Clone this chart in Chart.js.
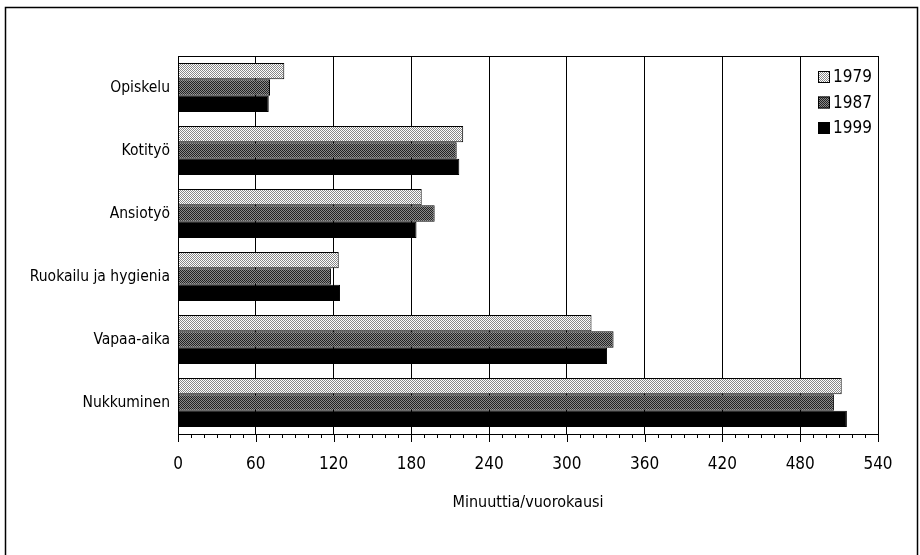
<!DOCTYPE html>
<html>
<head>
<meta charset="utf-8">
<script src="https://cdn.jsdelivr.net/npm/chart.js@4/dist/chart.umd.min.js"></script>
<style>
  html, body { margin: 0; padding: 0; background: #fff; }
</style>
</head>
<body>
<canvas id="chart" width="920" height="555"></canvas>
<script>
const categories = ['Opiskelu', 'Kotityö', 'Ansiotyö', 'Ruokailu ja hygienia', 'Vapaa-aika', 'Nukkuminen'];
const years = ['1979', '1987', '1999'];
const minutes1979 = [82, 220, 188, 124, 319, 512];
const minutes1987 = [71, 215, 198, 118, 336, 506];
const minutes1999 = [70, 217, 184, 125, 331, 516];
const xTicks = [0, 60, 120, 180, 240, 300, 360, 420, 480, 540];
const minorStep = 10;

const labelFont = "'DejaVu Sans Condensed', 'Liberation Sans Narrow', sans-serif";
const tickFont = "'Liberation Sans Narrow', 'DejaVu Sans Condensed', sans-serif";

const canvas = document.getElementById('chart');
const ctx0 = canvas.getContext('2d');

// stippled fills like the printed original
function stipple(dot, base) {
    const c = document.createElement('canvas');
    c.width = 2; c.height = 2;
    const g = c.getContext('2d');
    g.fillStyle = base; g.fillRect(0, 0, 2, 2);
    g.fillStyle = dot; g.fillRect(0, 0, 1, 1); g.fillRect(1, 1, 1, 1);
    return ctx0.createPattern(c, 'repeat');
}
const fills = [stipple('#888', '#fff'), stipple('#222', '#8a8a8a'), '#000'];

const extras = {
    id: 'extras',
    beforeDraw(chart) {
        const ctx = chart.ctx;
        ctx.save();
        ctx.fillStyle = '#fff';
        ctx.fillRect(0, 0, chart.width, chart.height);
        ctx.strokeStyle = '#000';
        ctx.lineWidth = 1.5;
        ctx.strokeRect(5.5, 7.5, 912, 700);
        ctx.restore();
    },
    afterDraw(chart) {
        const {ctx, chartArea: a, scales: {x}} = chart;
        ctx.save();
        ctx.strokeStyle = '#000';
        ctx.lineWidth = 1;
        ctx.strokeRect(a.left + 0.5, a.top + 0.5, a.right - a.left, a.bottom - a.top);
        // major and minor ticks under the axis
        ctx.beginPath();
        for (let v = x.min; v <= x.max; v += minorStep) {
            const px = Math.round(x.getPixelForValue(v)) + 0.5;
            const len = v % 60 === 0 ? 8 : 4;
            ctx.moveTo(px, a.bottom);
            ctx.lineTo(px, a.bottom + len);
        }
        ctx.stroke();
        // legend inside the plot, top right
        const ds = chart.data.datasets;
        ctx.font = "17px " + labelFont;
        ctx.textBaseline = 'middle';
        ctx.fillStyle = '#000';
        ds.forEach((d, i) => {
            const y = a.top + 21 + i * 25.5;
            const bx = a.right - 60;
            ctx.fillStyle = d.backgroundColor;
            ctx.fillRect(bx, y - 6, 12, 12);
            ctx.strokeRect(bx + 0.5, y - 5.5, 11, 11);
            ctx.fillStyle = '#000';
            ctx.fillText(d.label, bx + 15, y + 1);
        });
        ctx.restore();
    }
};

new Chart(canvas, {
    type: 'bar',
    data: {
        labels: categories,
        datasets: [
            { label: years[0], data: minutes1979, backgroundColor: fills[0] },
            { label: years[1], data: minutes1987, backgroundColor: fills[1] },
            { label: years[2], data: minutes1999, backgroundColor: fills[2] }
        ]
    },
    options: {
        indexAxis: 'y',
        responsive: false,
        animation: false,
        events: [],
        layout: { padding: { left: 0, top: 56, right: 42, bottom: 0 } },
        datasets: {
            bar: {
                categoryPercentage: 0.78,
                barPercentage: 1,
                borderColor: '#000',
                borderWidth: 1,
                borderSkipped: 'start'
            }
        },
        plugins: {
            legend: { display: false },
            tooltip: { enabled: false }
        },
        scales: {
            x: {
                min: 0,
                max: 540,
                afterBuildTicks: s => { s.ticks = xTicks.map(v => ({ value: v })); },
                afterFit: s => { s.height = 121; },
                grid: { color: '#000', lineWidth: 1, drawTicks: false },
                border: { color: '#000', width: 1 },
                ticks: {
                    padding: 20,
                    color: '#000',
                    autoSkip: false,
                    maxRotation: 0,
                    font: { family: tickFont, size: 17 }
                },
                title: {
                    display: true,
                    text: 'Minuuttia/vuorokausi',
                    color: '#000',
                    font: { family: labelFont, size: 16 },
                    padding: { top: 0, bottom: 43 }
                }
            },
            y: {
                afterFit: s => { s.width = 178; },
                grid: { display: false, drawTicks: false },
                border: { color: '#000', width: 1 },
                ticks: {
                    padding: 8,
                    color: '#000',
                    font: { family: labelFont, size: 15.5 }
                }
            }
        }
    },
    plugins: [extras]
});
</script>
</body>
</html>
